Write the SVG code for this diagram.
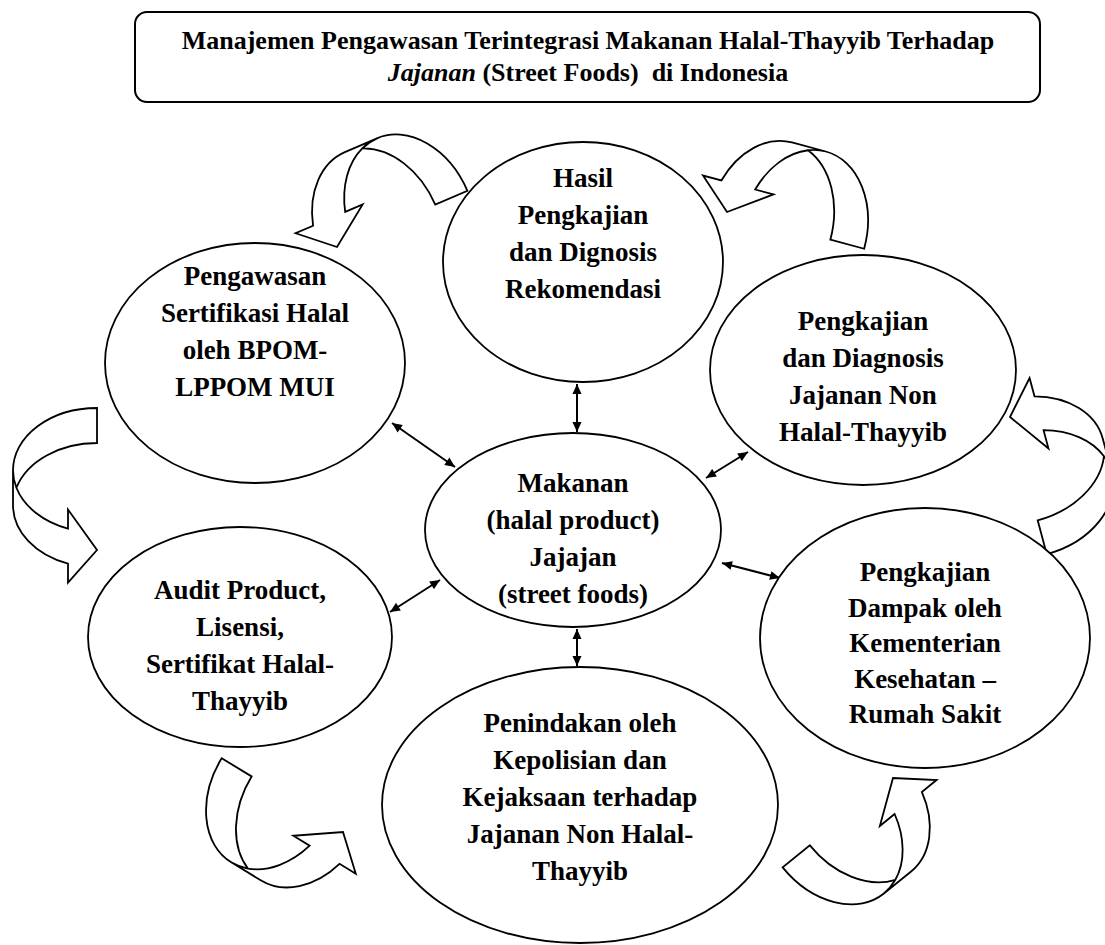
<svg xmlns="http://www.w3.org/2000/svg" width="1105" height="945" viewBox="0 0 1105 945">
<defs>
<style>
.n ellipse{fill:#fff;stroke:#000;stroke-width:1.8}
.box{fill:#fff;stroke:#000;stroke-width:2}
.t{font-family:"Liberation Serif","Times New Roman",serif;font-weight:bold;font-size:27px;text-anchor:middle;fill:#000}
.tt{font-family:"Liberation Serif","Times New Roman",serif;font-weight:bold;font-size:26px;text-anchor:middle;fill:#000;white-space:pre}
.dl{stroke:#000;stroke-width:2;fill:none;marker-start:url(#ah);marker-end:url(#ah)}
.ca{fill:#fff;stroke:#000;stroke-width:1.8;stroke-linejoin:miter}
</style>
<marker id="ah" viewBox="0 0 10 10" refX="10" refY="5" markerWidth="11" markerHeight="10" orient="auto-start-reverse" markerUnits="userSpaceOnUse"><path d="M0,0.5 L10,5 L0,9.5 Z" fill="#000"/></marker>
<path id="ca" class="ca" d="M97,408 A84,62.25 0 0 0 13,470.25 L13,505.25 A84,62.25 0 0 0 68,563.6 L68,582.6 L97,550 L68,509.6 L68,528.6 A84,62.25 0 0 1 16.4,487.75 A84,62.25 0 0 1 97,443 Z M13,470.25 A84,62.25 0 0 0 16.4,487.75"/>
</defs>
<rect width="1105" height="945" fill="#fff"/>

<g id="title">
<rect class="box" x="135" y="12" width="905" height="90" rx="12" ry="12"/>
<text class="tt" x="588" y="49">Manajemen Pengawasan Terintegrasi Makanan Halal-Thayyib Terhadap</text>
<text class="tt" x="588" y="81"><tspan font-style="italic">Jajanan</tspan> (Street Foods)  di Indonesia</text>
</g>

<g id="connectors">
<line class="dl" x1="577" y1="384" x2="577" y2="432"/>
<line class="dl" x1="392" y1="423" x2="455" y2="467"/>
<line class="dl" x1="748" y1="452" x2="706" y2="478"/>
<line class="dl" x1="390" y1="612" x2="440" y2="580"/>
<line class="dl" x1="722" y1="563" x2="780" y2="578"/>
<line class="dl" x1="577" y1="629" x2="577" y2="666"/>
<use href="#ca"/>
<use href="#ca" transform="translate(337,247) rotate(66.7) translate(-97,-550)"/>
<use href="#ca" transform="translate(727,212) rotate(105) translate(-97,-550)"/>
<use href="#ca" transform="translate(1010,417) rotate(165) translate(-97,-550)"/>
<use href="#ca" transform="translate(893,778) rotate(-129) translate(-97,-550)"/>
<use href="#ca" transform="translate(343,832) rotate(-58.7) translate(-97,-550)"/>
</g>

<g id="node-hasil" class="n">
<ellipse cx="583" cy="262" rx="140" ry="120"/>
<text class="t" x="583" y="187">Hasil</text>
<text class="t" x="583" y="224">Pengkajian</text>
<text class="t" x="583" y="261">dan Dignosis</text>
<text class="t" x="583" y="298">Rekomendasi</text>
</g>

<g id="node-pengawasan" class="n">
<ellipse cx="255" cy="363" rx="150" ry="120"/>
<text class="t" x="255" y="285">Pengawasan</text>
<text class="t" x="255" y="322">Sertifikasi Halal</text>
<text class="t" x="255" y="359">oleh BPOM-</text>
<text class="t" x="255" y="396">LPPOM MUI</text>
</g>

<g id="node-pengkajian-diagnosis" class="n">
<ellipse cx="863" cy="370" rx="153" ry="115"/>
<text class="t" x="863" y="330">Pengkajian</text>
<text class="t" x="863" y="367">dan Diagnosis</text>
<text class="t" x="863" y="404">Jajanan Non</text>
<text class="t" x="863" y="441">Halal-Thayyib</text>
</g>

<g id="node-makanan" class="n">
<ellipse cx="573" cy="530" rx="148" ry="97"/>
<text class="t" x="573" y="492">Makanan</text>
<text class="t" x="573" y="529">(halal product)</text>
<text class="t" x="573" y="566">Jajajan</text>
<text class="t" x="573" y="603">(street foods)</text>
</g>

<g id="node-audit" class="n">
<ellipse cx="240" cy="637" rx="152" ry="110"/>
<text class="t" x="240" y="599">Audit Product,</text>
<text class="t" x="240" y="636">Lisensi,</text>
<text class="t" x="240" y="673">Sertifikat Halal-</text>
<text class="t" x="240" y="710">Thayyib</text>
</g>

<g id="node-dampak" class="n">
<ellipse cx="925" cy="638" rx="165" ry="130"/>
<text class="t" x="925" y="581">Pengkajian</text>
<text class="t" x="925" y="617">Dampak oleh</text>
<text class="t" x="925" y="652">Kementerian</text>
<text class="t" x="925" y="688">Kesehatan –</text>
<text class="t" x="925" y="723">Rumah Sakit</text>
</g>

<g id="node-penindakan" class="n">
<ellipse cx="580" cy="805" rx="198" ry="138"/>
<text class="t" x="580" y="732">Penindakan oleh</text>
<text class="t" x="580" y="769">Kepolisian dan</text>
<text class="t" x="580" y="806">Kejaksaan terhadap</text>
<text class="t" x="580" y="843">Jajanan Non Halal-</text>
<text class="t" x="580" y="880">Thayyib</text>
</g>
</svg>
